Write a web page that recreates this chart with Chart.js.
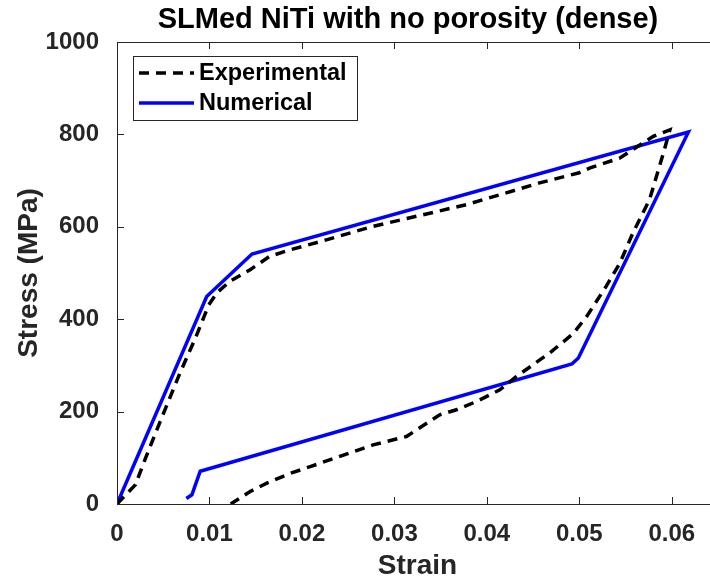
<!DOCTYPE html>
<html>
<head>
<meta charset="utf-8">
<script src="https://cdn.jsdelivr.net/npm/chart.js@4.4.1/dist/chart.umd.min.js"></script>
<style>
  html, body { margin: 0; padding: 0; background: #fff; overflow: hidden; }
  #wrap { width: 710px; height: 583px; overflow: hidden; }
</style>
</head>
<body>
<div id="wrap"><canvas id="stressChart" width="730" height="583"></canvas></div>
<script>
// experimental loading/unloading curve (strain, MPa)
const expStrain = [0, 0.002, 0.003, 0.0048, 0.0068, 0.0085, 0.0099, 0.0108, 0.0122, 0.0144, 0.0165, 0.0187, 0.022, 0.0277, 0.0378, 0.0457, 0.05, 0.0511, 0.0544, 0.058, 0.0598,
                   0.0591, 0.0576, 0.0558, 0.0544, 0.0529, 0.0508, 0.0493, 0.0468, 0.0432, 0.0414, 0.0389, 0.0367, 0.0349, 0.0313, 0.0277, 0.0241, 0.0209, 0.0187, 0.0162, 0.0144, 0.0123];
const expStress = [0, 42, 95, 185, 283, 360, 430, 457, 482, 507, 536, 550, 568, 601, 648, 695, 717, 727, 749, 796, 810,
                   760, 659, 587, 522, 471, 406, 368, 327, 276, 247, 222, 204, 193, 146, 128, 103, 81, 66, 45, 27, 0];

// numerical model
const numStrain = [0, 0.0097, 0.0146, 0.0618, 0.0499, 0.0492, 0.009, 0.0081, 0.0075];
const numStress = [0, 449, 541, 805, 316, 303, 71, 20, 12];

const xTicks = [0, 0.01, 0.02, 0.03, 0.04, 0.05, 0.06];
const yTicks = [0, 200, 400, 600, 800, 1000];

const titleText = 'SLMed NiTi with no porosity (dense)';
const seriesNames = ['Experimental', 'Numerical'];

const axisColor = '#262626';
const fontFam = '"Liberation Sans", Arial, Helvetica, sans-serif';

function toPoints(xs, ys) {
  return xs.map((x, i) => ({x: x, y: ys[i]}));
}

// box, inward ticks, title and legend the way matlab draws them
const matlabAxes = {
  id: 'matlabAxes',
  afterDatasetsDraw(chart) {
    const ctx = chart.ctx;
    const a = chart.chartArea;
    const xs = chart.scales.x, ys = chart.scales.y;
    ctx.save();
    ctx.strokeStyle = axisColor;
    ctx.lineWidth = 1;
    ctx.strokeRect(a.left + 0.5, a.top + 0.5, a.right - a.left, a.bottom - a.top);
    ctx.beginPath();
    xTicks.forEach(v => {
      const px = Math.round(xs.getPixelForValue(v)) + 0.5;
      ctx.moveTo(px, a.bottom); ctx.lineTo(px, a.bottom - 7);
      ctx.moveTo(px, a.top); ctx.lineTo(px, a.top + 7);
    });
    yTicks.forEach(v => {
      const py = Math.round(ys.getPixelForValue(v)) + 0.5;
      ctx.moveTo(a.left, py); ctx.lineTo(a.left + 7, py);
      ctx.moveTo(a.right, py); ctx.lineTo(a.right - 7, py);
    });
    ctx.stroke();

    // title
    ctx.fillStyle = '#000';
    ctx.font = 'bold 29px ' + fontFam;
    ctx.textAlign = 'center';
    ctx.textBaseline = 'middle';
    ctx.fillText(titleText, 408, 20);

    // legend
    const lx = 133, ly = 56, lw = 224, lh = 64;
    ctx.fillStyle = '#fff';
    ctx.fillRect(lx, ly, lw, lh);
    ctx.strokeStyle = axisColor;
    ctx.strokeRect(lx + 0.5, ly + 0.5, lw, lh);
    ctx.font = 'bold 23.5px ' + fontFam;
    ctx.textAlign = 'left';
    chart.data.datasets.forEach((ds, i) => {
      const yy = 73 + i * 30;
      ctx.beginPath();
      ctx.strokeStyle = ds.borderColor;
      ctx.lineWidth = ds.borderWidth;
      ctx.setLineDash(ds.borderDash || []);
      ctx.moveTo(139, yy); ctx.lineTo(194, yy);
      ctx.stroke();
      ctx.setLineDash([]);
      ctx.fillStyle = '#000';
      ctx.fillText(ds.label, 199, yy + 1);
    });
    ctx.restore();
  }
};

const config = {
  type: 'scatter',
  data: {
    datasets: [{
      label: seriesNames[0],
      data: toPoints(expStrain, expStress),
      showLine: true,
      borderColor: '#000',
      borderWidth: 3.5,
      borderDash: [10, 7],
      pointRadius: 0,
      tension: 0
    }, {
      label: seriesNames[1],
      data: toPoints(numStrain, numStress),
      showLine: true,
      borderColor: '#0000ff',
      borderWidth: 3.5,
      pointRadius: 0,
      tension: 0
    }]
  },
  options: {
    responsive: false,
    animation: false,
    layout: { padding: { top: 42, right: 12, left: 0, bottom: 0 } },
    plugins: {
      legend: { display: false },
      title: { display: false },
      tooltip: { enabled: false }
    },
    scales: {
      x: {
        type: 'linear',
        min: 0, max: 0.065,
        afterBuildTicks: s => { s.ticks = xTicks.map(v => ({value: v})); },
        afterFit: s => { s.height = 79; },
        grid: { display: false },
        border: { display: false },
        ticks: {
          padding: 8,
          color: axisColor,
          font: { family: fontFam, size: 24, weight: 'bold' },
          callback: v => String(v)
        },
        title: {
          display: true, text: 'Strain', color: axisColor, padding: 0,
          font: { family: fontFam, size: 28, weight: 'bold' }
        }
      },
      y: {
        min: 0, max: 1000,
        afterBuildTicks: s => { s.ticks = yTicks.map(v => ({value: v})); },
        afterFit: s => { s.width = 117; },
        grid: { display: false },
        border: { display: false },
        ticks: {
          padding: 10,
          color: axisColor,
          font: { family: fontFam, size: 24, weight: 'bold' },
          callback: v => String(v)
        },
        title: {
          display: true, text: 'Stress (MPa)', color: axisColor, padding: 12,
          font: { family: fontFam, size: 28, weight: 'bold' }
        }
      }
    }
  },
  plugins: [matlabAxes]
};

new Chart(document.querySelector('#stressChart').getContext('2d'), config);
</script>
</body>
</html>
